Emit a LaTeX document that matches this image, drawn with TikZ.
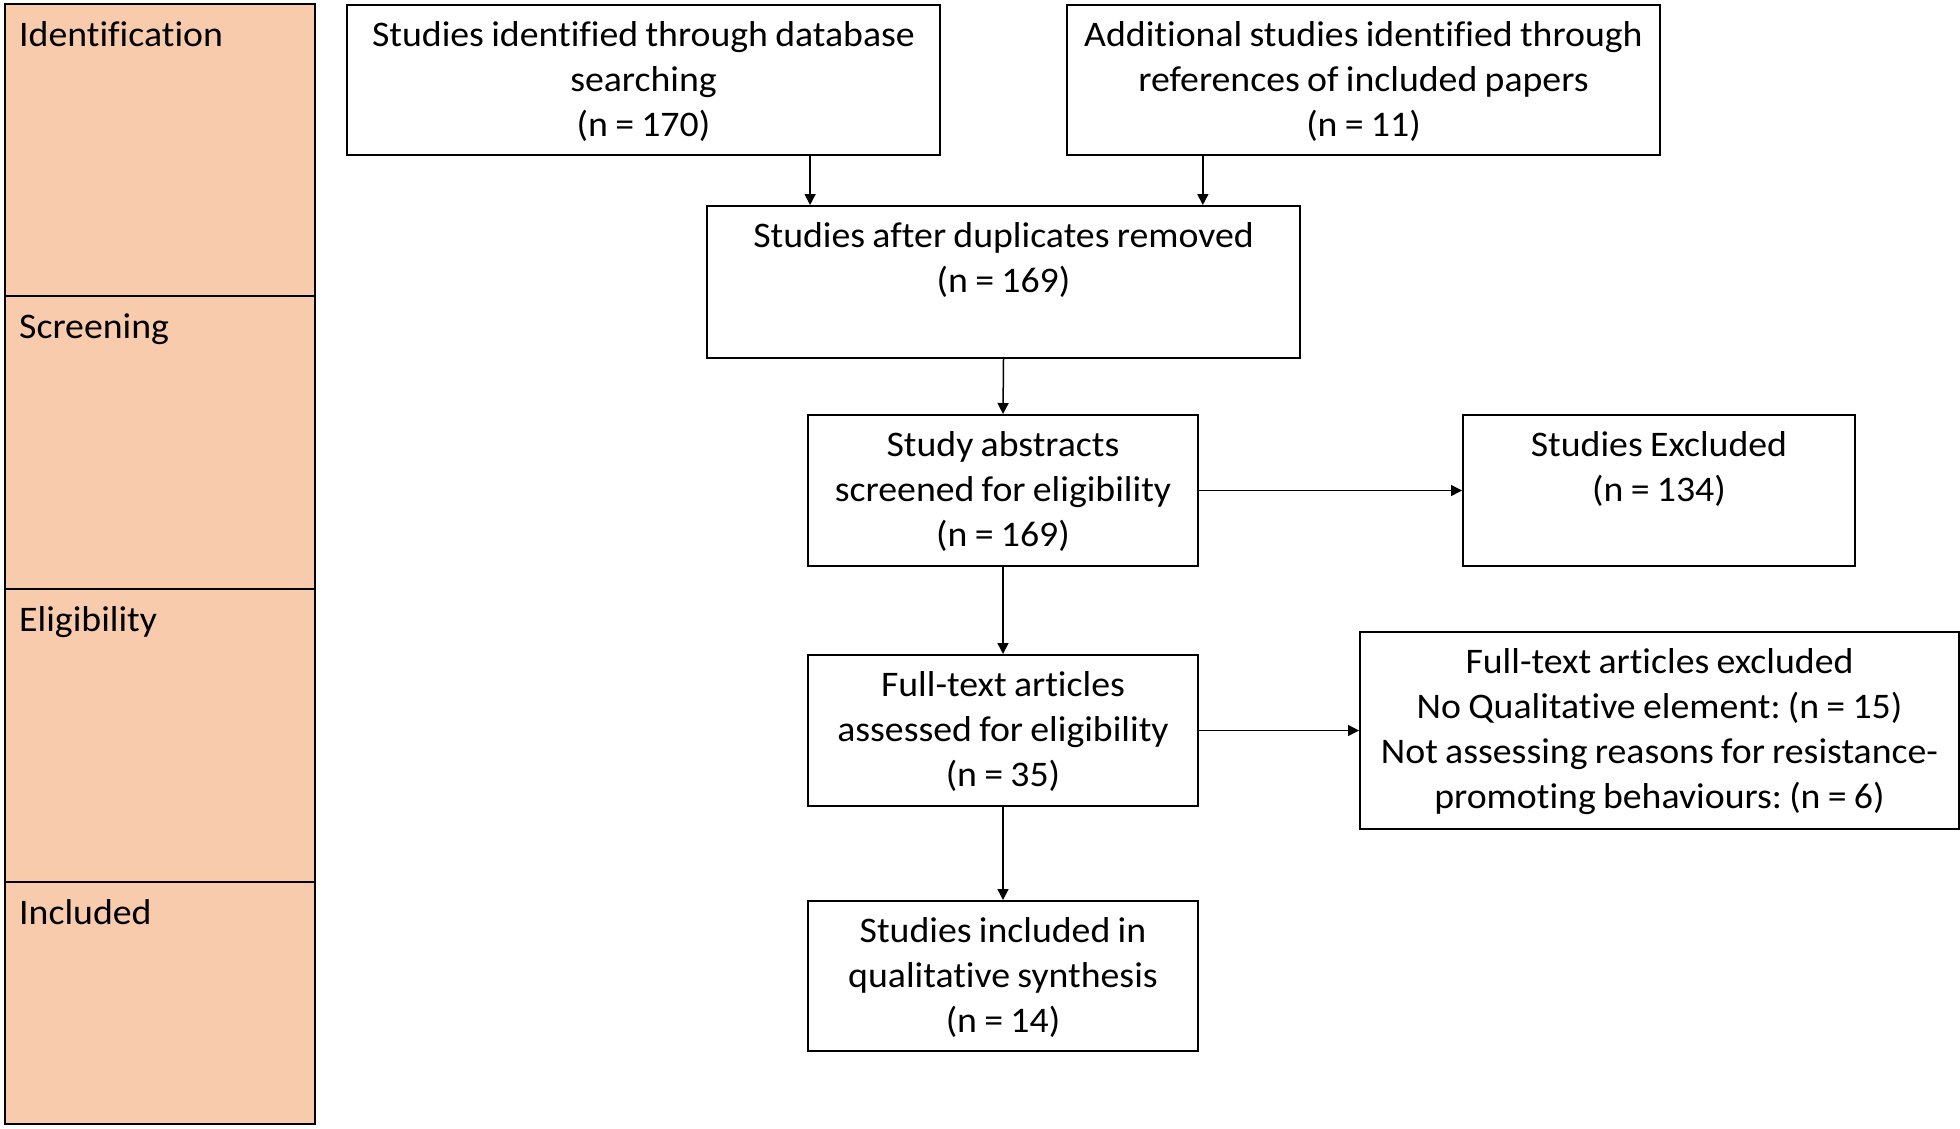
\documentclass[tikz,border=0pt]{standalone}
\usepackage{fontspec}
\setmainfont{Carlito}[FakeStretch=1.05,Ligatures=NoCommon,WordSpace=0.85]
\frenchspacing
\usetikzlibrary{arrows.meta,calc}
\definecolor{stagefill}{HTML}{F8CBAD}
\begin{document}
\begin{tikzpicture}[x=1pt,y=-1pt,
  stagebox/.style={draw=black, line width=2.2pt, fill=stagefill, anchor=north west, inner sep=0, minimum width=310pt},
  stagelabel/.style={anchor=base west, inner sep=0, font=\fontsize{36}{45}\selectfont},
  flowbox/.style={draw=black, line width=2pt, anchor=north west, inner sep=0},
  flowtext/.style={anchor=north, inner sep=0, align=center, font=\fontsize{36}{45}\selectfont},
  arr/.style={draw=black, line width=1.5pt, -{Triangle[length=11pt,width=11pt]}}]
\useasboundingbox (0,0) rectangle (1960,1128);
% stage column
\node[stagebox, minimum height=292pt] (s1) at (4,3) {};
\node[stagebox, minimum height=293pt] (s2) at (4,295) {};
\node[stagebox, minimum height=293pt] (s3) at (4,588) {};
\node[stagebox, minimum height=242pt] (s4) at (4,881) {};
\node[stagelabel] (l1) at (19,46) {Identification};
\node[stagelabel] (l2) at (19,338) {Screening};
\node[stagelabel] (l3) at (19,631) {Eligibility};
\node[stagelabel] (l4) at (19,924) {Included};
% boxes
\node[flowbox, minimum width=593pt, minimum height=150pt] (A) at (346,4) {};
\node[flowbox, minimum width=593pt, minimum height=150pt] (B) at (1066,4) {};
\node[flowbox, minimum width=593pt, minimum height=152pt] (C) at (706,205) {};
\node[flowbox, minimum width=390pt, minimum height=151pt] (D) at (807,414) {};
\node[flowbox, minimum width=392pt, minimum height=151pt] (E) at (1462,414) {};
\node[flowbox, minimum width=390pt, minimum height=151pt] (F) at (807,654) {};
\node[flowbox, minimum width=599pt, minimum height=197pt] (G) at (1359,631) {};
\node[flowbox, minimum width=390pt, minimum height=150pt] (H) at (807,900) {};
% texts
\node[flowtext] (tA) at ($(A.north)+(0,12)$) {\rule{0pt}{30pt}Studies identified through database\\searching\\(n = 170)};
\node[flowtext] (tB) at ($(B.north)+(0,12)$) {\rule{0pt}{30pt}Additional studies identified through\\references of included papers\\(n = 11)};
\node[flowtext] (tC) at ($(C.north)+(0,12)$) {\rule{0pt}{30pt}Studies after duplicates removed\\(n = 169)};
\node[flowtext] (tD) at ($(D.north)+(0,12)$) {\rule{0pt}{30pt}Study abstracts\\screened for eligibility\\(n = 169)};
\node[flowtext] (tE) at ($(E.north)+(0,12)$) {\rule{0pt}{30pt}Studies Excluded\\(n = 134)};
\node[flowtext] (tF) at ($(F.north)+(0,12)$) {\rule{0pt}{30pt}Full-text articles\\assessed for eligibility\\(n = 35)};
\node[flowtext] (tG) at ($(G.north)+(0,12)$) {\rule{0pt}{30pt}Full-text articles excluded\\No Qualitative element: (n = 15)\\Not assessing reasons for resistance-\\promoting behaviours: (n = 6)};
\node[flowtext] (tH) at ($(H.north)+(0,12)$) {\rule{0pt}{30pt}Studies included in\\qualitative synthesis\\(n = 14)};
% connectors
\draw[arr] ($(A.south west)!0.78!(A.south east)$) coordinate (a1) -- (a1 |- C.north);
\draw[arr] ($(B.south west)!0.23!(B.south east)$) coordinate (b1) -- (b1 |- C.north);
\draw[arr] (C.south) -- (D.north);
\draw[arr] (D.east) -- (E.west);
\draw[arr] (D.south) -- (F.north);
\draw[arr] (F.east) -- (G.west);
\draw[arr] (F.south) -- (H.north);
\end{tikzpicture}
\end{document}
